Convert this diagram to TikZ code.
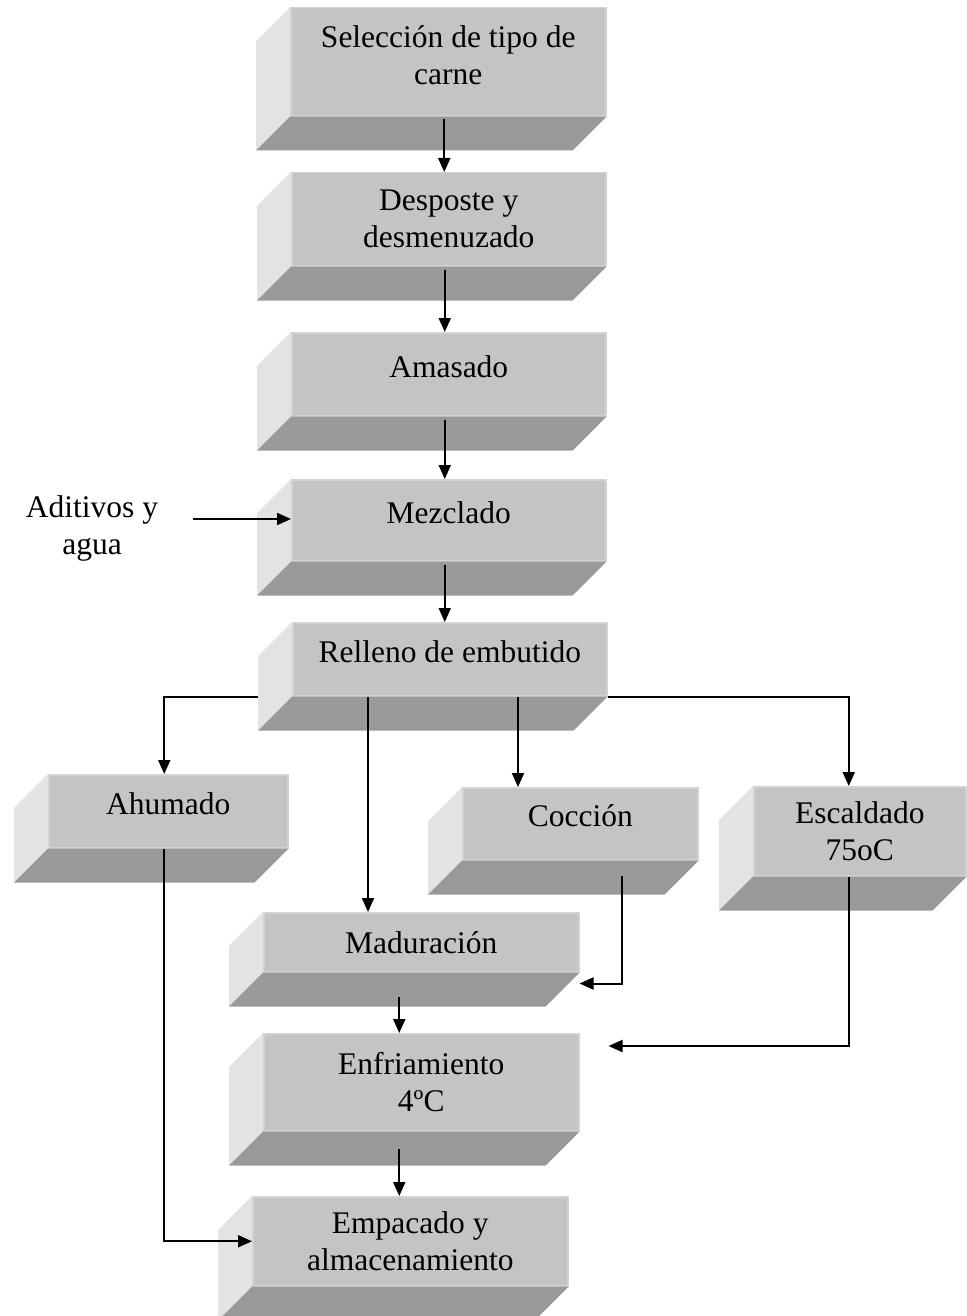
\documentclass[tikz,border=0pt]{standalone}
\usepackage{fontspec}
\setmainfont{Liberation Serif}
\usetikzlibrary{arrows.meta,calc}
\definecolor{frontgray}{HTML}{C4C4C4}
\definecolor{edgegray}{HTML}{D2D2D2}
\definecolor{sidegray}{HTML}{E3E3E3}
\definecolor{basegray}{HTML}{999999}

% left and bottom faces of a bevelled process box
\newcommand\boxsides[1]{%
  \fill[sidegray] (#1.north west) -- ++(-34,34) -- ($(#1.south west)+(-34,34)$) -- (#1.south west) -- cycle;
  \fill[basegray] (#1.south west) -- (#1.south east) -- ++(-34,34) -- ($(#1.south west)+(-34,34)$) -- cycle;}

\begin{document}
\begin{tikzpicture}[x=1pt,y=-1pt,
  txt/.style={font=\fontsize{31.5}{37}\selectfont, align=center},
  frontface/.style={txt, fill=frontgray, draw=edgegray, line width=1.5pt,
    inner sep=0pt, anchor=north west},
  onel/.style={text depth=16pt},
  arr/.style={line width=2pt, -{Triangle[length=14pt,width=12pt]}}]
\useasboundingbox (0,0) rectangle (966,1316);

% process boxes (front faces)
\node[frontface, text depth=14pt, minimum width=315pt, minimum height=108pt] (sel) at (290,7) {Selección de tipo de\\carne};
\node[frontface, minimum width=314pt, minimum height=93pt]  (des) at (291,172)  {Desposte y\\desmenuzado};
\node[frontface, onel, minimum width=314pt, minimum height=83pt]  (ama) at (291,332)  {Amasado};
\node[frontface, onel, minimum width=314pt, minimum height=81pt]  (mez) at (291,479)  {Mezclado};
\node[frontface, onel, minimum width=314pt, minimum height=73pt]  (rel) at (292,622)  {Relleno de embutido};
\node[frontface, onel, minimum width=239pt, minimum height=73pt]  (ahu) at (48,774)   {Ahumado};
\node[frontface, onel, minimum width=235pt, minimum height=72pt]  (coc) at (462,787)  {Cocción};
\node[frontface, minimum width=212pt, minimum height=89pt]  (esc) at (753,786)  {Escaldado\\75oC};
\node[frontface, minimum width=315pt, minimum height=59pt]  (mad) at (263,912)  {Maduración};
\node[frontface, minimum width=315pt, minimum height=97pt]  (enf) at (263,1033) {Enfriamiento\\4ºC};
\node[frontface, minimum width=315pt, minimum height=89pt]  (emp) at (252,1196) {Empacado y\\almacenamiento};

\foreach \b in {sel,des,ama,mez,rel,ahu,coc,esc,mad,enf,emp} {\boxsides{\b}}

% side input
\node[txt] (adi) at (92,528) {Aditivos y\\agua};
\coordinate (adiout) at (193,519);
\draw[arr] (adiout) -- (adiout -| mez.west);

% main line
\draw[arr] ([xshift=-4pt,yshift=-3pt]sel.south) coordinate (s1) -- (s1 |- des.north);
\draw[arr] ([xshift=-4pt,yshift=-3pt]des.south) coordinate (s2) -- (s2 |- ama.north);
\draw[arr] ([xshift=-4pt,yshift=-3pt]ama.south) coordinate (s3) -- (s3 |- mez.north);
\draw[arr] ([xshift=-4pt,yshift=-3pt]mez.south) coordinate (s4) -- (s4 |- rel.north);

% branches from filling
\draw[arr] ([xshift=-34pt]rel.south west) -| ([xshift=-4pt]ahu.north);
\draw[arr] ([xshift=76pt]rel.south west) coordinate (r1) -- (r1 |- mad.north);
\draw[arr] ([xshift=226pt]rel.south west) coordinate (r2) -- (r2 |- coc.north);
\draw[arr] (rel.south east) -| ([xshift=-11pt]esc.north);

% returns
\draw[arr] ([xshift=-4pt]ahu.south) |- (emp.west);
\draw[arr] ([xshift=42pt,yshift=-15pt]coc.south) |- ([yshift=-11pt]mad.south east);
\draw[arr] ([xshift=-11pt]esc.south) |- ([xshift=29pt,yshift=-13pt]enf.north east);
\draw[arr] ([xshift=-22pt,yshift=-24pt]mad.south) coordinate (m1) -- (m1 |- enf.north);
\draw[arr] ([xshift=-22pt,yshift=-17pt]enf.south) coordinate (e1) -- (e1 |- emp.north);
\end{tikzpicture}
\end{document}
